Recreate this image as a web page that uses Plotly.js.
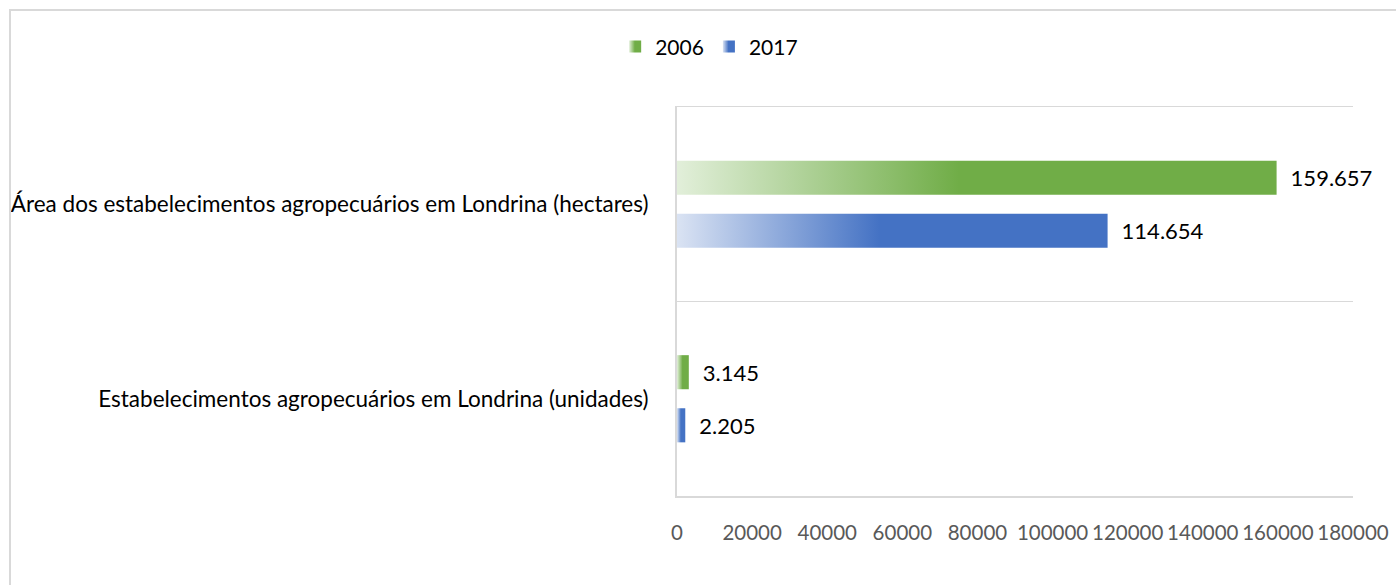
<!DOCTYPE html>
<html>
<head>
<meta charset="utf-8">
<script src="https://cdn.plot.ly/plotly-3.0.1.min.js"></script>
<style>
html, body { margin:0; padding:0; overflow:hidden; background:#fff; }
#chart { width:1396px; height:585px; }
#frame { position:absolute; left:9px; top:9px; width:1500px; height:700px; border:2px solid #d9d9d9; pointer-events:none; box-sizing:border-box; }
</style>
</head>
<body>
<div id="chart"></div>
<div id="frame"></div>
<script>
const categories = [
  "Área dos estabelecimentos agropecuários em Londrina (hectares)",
  "Estabelecimentos agropecuários em Londrina (unidades)"
];
const seriesNames = ["2006", "2017"];
const values2006 = [159657, 3145];
const values2017 = [114654, 2205];
const xTicks = [0, 20000, 40000, 60000, 80000, 100000, 120000, 140000, 160000, 180000];

const solidColors = ["#70ad47", "#4472c4"];
const lightColors = ["#e2efda", "#dae3f3"];
const FONT = "Lato, 'Open Sans', sans-serif";

function barTrace(name, vals, color) {
  return {
    type: "bar",
    orientation: "h",
    name: name,
    y: categories,
    x: vals,
    marker: { color: color },
    texttemplate: "\u2002%{x:,}",
    textposition: "outside",
    constraintext: "none",
    cliponaxis: false,
    textfont: { family: FONT, size: 22, color: "#000000" },
    hoverinfo: "skip"
  };
}

const data = [
  barTrace(seriesNames[0], values2006, solidColors[0]),
  barTrace(seriesNames[1], values2017, solidColors[1])
];

const layout = {
  width: 1396,
  height: 585,
  margin: { l: 677, r: 43, t: 107, b: 89 },
  paper_bgcolor: "#ffffff",
  plot_bgcolor: "#ffffff",
  font: { family: FONT, size: 20, color: "#000000" },
  separators: ",.",
  barmode: "group",
  bargap: 0.454,
  bargroupgap: 0.358,
  showlegend: true,
  legend: {
    orientation: "h",
    xref: "container", yref: "container",
    x: 0.508, xanchor: "center",
    y: 0.92, yanchor: "middle",
    font: { family: FONT, size: 21, color: "#000000" },
    itemclick: false
  },
  xaxis: {
    range: [0, 180000],
    tickvals: xTicks,
    ticktext: xTicks.map(v => String(v)),
    showgrid: false,
    zeroline: false,
    showline: true,
    mirror: true,
    linecolor: "#d9d9d9",
    linewidth: 1.5,
    ticks: "",
    ticklabelstandoff: 18,
    tickfont: { family: FONT, size: 20.5, color: "#595959" },
    fixedrange: true
  },
  yaxis: {
    type: "category",
    range: [1.5, -0.5],
    tickson: "boundaries",
    showgrid: true,
    gridcolor: "#d9d9d9",
    gridwidth: 1.5,
    showline: true,
    linecolor: "#d9d9d9",
    linewidth: 2,
    ticks: "",
    ticklabelstandoff: 22,
    tickfont: { family: FONT, size: 22.5, color: "#000000" },
    fixedrange: true
  }
};

function applyGradients(gd) {
  const svg = gd.querySelector("svg.main-svg");
  if (!svg) return;
  let defs = svg.querySelector("defs");
  if (!defs) {
    defs = document.createElementNS("http://www.w3.org/2000/svg", "defs");
    svg.insertBefore(defs, svg.firstChild);
  }
  const ns = "http://www.w3.org/2000/svg";
  seriesNames.forEach((n, i) => {
    const id = "grad" + i;
    if (!document.getElementById(id)) {
      const g = document.createElementNS(ns, "linearGradient");
      g.setAttribute("id", id);
      g.setAttribute("x1", "0"); g.setAttribute("y1", "0");
      g.setAttribute("x2", "1"); g.setAttribute("y2", "0");
      [[0, lightColors[i]], [0.47, solidColors[i]], [1, solidColors[i]]].forEach(([o, c]) => {
        const s = document.createElementNS(ns, "stop");
        s.setAttribute("offset", o);
        s.setAttribute("stop-color", c);
        g.appendChild(s);
      });
      defs.appendChild(g);
    }
  });
  const traces = gd.querySelectorAll(".barlayer .trace.bars");
  traces.forEach((t, i) => {
    t.querySelectorAll("path").forEach(p => { p.style.fill = "url(#grad" + i + ")"; });
  });
  const legItems = gd.querySelectorAll(".legend .traces");
  legItems.forEach((t, i) => {
    t.querySelectorAll(".legendpoints path").forEach(p => { p.style.fill = "url(#grad" + i + ")"; });
  });
}

const gd = document.getElementById("chart");
Plotly.newPlot(gd, data, layout, { displayModeBar: false, staticPlot: true }).then(() => {
  applyGradients(gd);
  gd.on && gd.on("plotly_afterplot", () => applyGradients(gd));
});
</script>
</body>
</html>
